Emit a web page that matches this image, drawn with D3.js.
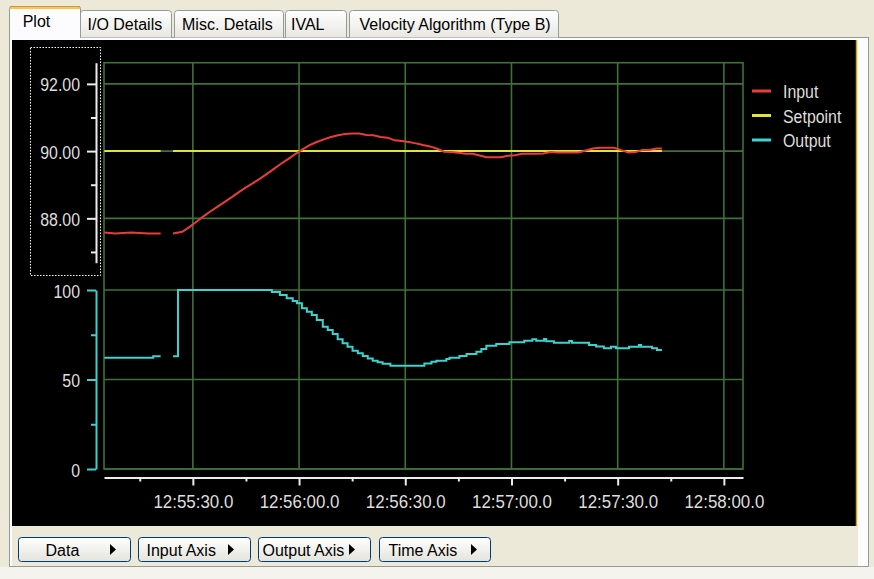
<!DOCTYPE html>
<html><head><meta charset="utf-8">
<script src="https://cdn.jsdelivr.net/npm/d3@7"></script>
<style>
html,body{margin:0;padding:0;background:#ECE9D8;overflow:hidden}
svg{display:block}
text{font-family:"Liberation Sans",Arial,sans-serif}
</style></head><body><svg id="c" width="874" height="579"></svg>
<script>
// ---------------- data ----------------
const tabLabels = ["Plot", "I/O Details", "Misc. Details", "IVAL", "Velocity Algorithm (Type B)"];
const buttonLabels = ["Data", "Input Axis", "Output Axis", "Time Axis"];
const seriesNames = ["Input", "Setpoint", "Output"];

const inputTickValues = [88, 90, 92];
const inputMinorTicks = [87, 89, 91];
const outputTickValues = [0, 50, 100];
const outputMinorTicks = [25, 75];
const timeTickLabels = ["12:55:30.0", "12:56:00.0", "12:56:30.0", "12:57:00.0", "12:57:30.0", "12:58:00.0"];
const timeStartLabel = "12:55:00.0";

// seconds after 12:55:00 ; null = gap in the record
const inputTime = [5, 8.1, 12.6, 17.4, 20.9, 21, 24.4, 27, 29, 31, 33, 35, 37, 39, 41, 43, 45, 47, 49, 51,
  53, 55, 57, 59, 61, 63, 65, 67, 69, 71, 73, 75, 77, 79, 81, 83, 85, 87, 89, 91, 93, 95, 97, 99, 101,
  103, 105, 107, 109, 111, 113, 115, 117, 119, 121, 123, 125, 127, 129, 131, 133, 135, 137, 139, 141,
  143, 145, 147, 149, 151, 153, 155, 157, 159, 161, 162.5];
const inputValues = [87.58, 87.55, 87.58, 87.55, 87.55, null, 87.55, 87.60, 87.74, 87.90, 88.06, 88.21,
  88.35, 88.49, 88.63, 88.78, 88.92, 89.05, 89.18, 89.33, 89.48, 89.63, 89.77, 89.92, 90.05, 90.18,
  90.27, 90.35, 90.42, 90.47, 90.51, 90.52, 90.52, 90.48, 90.47, 90.42, 90.40, 90.32, 90.30, 90.27,
  90.23, 90.18, 90.14, 90.07, 89.98, 89.97, 89.95, 89.92, 89.92, 89.87, 89.82, 89.82, 89.82, 89.86,
  89.88, 89.92, 89.92, 89.92, 89.93, 89.97, 89.96, 89.96, 89.96, 89.96, 90.02, 90.08, 90.10, 90.10,
  90.10, 90.03, 89.96, 89.97, 90.03, 90.03, 90.08, 90.08];

const setpointTime = [5, 20.9, 21, 24.4, 162.5];
const setpointValues = [90, 90, null, 90, 90];

const outputTime = [5, 18.8, 20.9, 21, 24.4, 25.8, 52.3, 54.6, 56.5, 58.2, 59.4, 60.8, 62.2, 63.6, 65,
  66.7, 68.1, 69.5, 70.9, 72.3, 73.7, 75.1, 76.6, 78, 79.4, 80.8, 82.2, 83.6, 85.8, 95.4, 97.4, 98.8,
  101.6, 102.5, 105.3, 107.3, 110.1, 111.5, 112.9, 115.7, 119.4, 123.6, 125.9, 127, 129.2, 129.8, 132,
  136.3, 137.1, 141.9, 143.9, 146.1, 148.1, 149.5, 153.2, 156, 156.6, 159.7, 161.1, 162.5];
const outputValues = [62.2, 63, 63, null, 63, 100, 98.9, 97.2, 95.4, 93.9, 92.6, 89.8, 87.9, 86, 83.2,
  79.5, 77.7, 75.4, 72.5, 70.2, 68.3, 66.1, 64.6, 63.1, 61.8, 60.5, 59.6, 58.8, 57.7, 59, 59.9, 60.5,
  61.5, 62.2, 63.1, 64.2, 65.5, 67, 68.9, 69.8, 70.8, 71.7, 72.5, 71.7, 72.6, 71.3, 70.6, 71.5, 70.6,
  69.3, 68.5, 67.4, 68.3, 67.4, 68.3, 69.3, 68.3, 67.4, 66.5, 66.5];

// ---------------- drawing ----------------
const svg = d3.select("#c");
const defs = svg.append("defs");
function grad(id, c0, c1) {
  const g = defs.append("linearGradient").attr("id", id).attr("x1", 0).attr("y1", 0).attr("x2", 0).attr("y2", 1);
  g.append("stop").attr("offset", 0).attr("stop-color", c0);
  g.append("stop").attr("offset", 1).attr("stop-color", c1);
}
grad("tabGrad", "#ffffff", "#e8e7e1");
grad("btnGrad", "#ffffff", "#e4e3dc");

svg.append("rect").attr("width", 874).attr("height", 579).attr("fill", "#ECE9D8");
svg.append("rect").attr("x", 0).attr("y", 567).attr("width", 874).attr("height", 12).attr("fill", "#F4F3EE");

// tab page
svg.append("rect").attr("x", 9.5).attr("y", 37.5).attr("width", 859).attr("height", 529)
  .attr("fill", "#FCFCFE").attr("stroke", "#919B9C");
svg.append("rect").attr("x", 12).attr("y", 526).attr("width", 846).attr("height", 40).attr("fill", "#ECE9D8");
svg.append("rect").attr("x", 12).attr("y", 40).attr("width", 845).attr("height", 486).attr("fill", "#000");
svg.append("line").attr("x1", 856.5).attr("x2", 856.5).attr("y1", 40).attr("y2", 526)
  .attr("stroke", "#d8a400").attr("stroke-width", 1.5);

// tabs
const tabX = [[10, 80], [80, 172], [174, 284], [285, 347], [349, 559]];
const tabTextX = [22.7, 87.5, 182, 291, 359.5];
tabLabels.forEach((lab, i) => {
  if (i === 0) return;
  const [a, b] = tabX[i];
  svg.append("path")
    .attr("d", `M${a + 0.5},37.5 V13.5 Q${a + 0.5},10.5 ${a + 3.5},10.5 H${b - 3.5} Q${b - 0.5},10.5 ${b - 0.5},13.5 V37.5`)
    .attr("fill", "url(#tabGrad)").attr("stroke", "#919B9C");
  svg.append("text").attr("x", tabTextX[i]).attr("y", 30).attr("font-size", 16).attr("fill", "#000").text(lab);
});
{
  const [a, b] = tabX[0];
  svg.append("path")
    .attr("d", `M${a - 0.5},38 V8.5 Q${a - 0.5},6.5 ${a + 2},6.5 H${b - 2} Q${b + 0.5},6.5 ${b + 0.5},8.5 V38`)
    .attr("fill", "#FCFCFE").attr("stroke", "#919B9C");
  svg.append("rect").attr("x", a).attr("y", 6).attr("width", b - a).attr("height", 1.5).attr("fill", "#E68B2C");
  svg.append("rect").attr("x", a).attr("y", 7.5).attr("width", b - a).attr("height", 1.5).attr("fill", "#FFC73C");
  svg.append("text").attr("x", tabTextX[0]).attr("y", 26.5).attr("font-size", 16).attr("fill", "#000").text(tabLabels[0]);
}

// buttons
const btnX = [[18.5, 130.5], [138.5, 250.5], [258.5, 370.5], [379.5, 490.5]];
const btnTextX = [45.5, 146.5, 262.5, 388.5];
const btnArrowX = [113, 231, 352, 474];
buttonLabels.forEach((lab, i) => {
  const [a, b] = btnX[i];
  svg.append("rect").attr("x", a).attr("y", 537.5).attr("width", b - a).attr("height", 24).attr("rx", 3)
    .attr("fill", "url(#btnGrad)").attr("stroke", "#003C74");
  svg.append("text").attr("x", btnTextX[i]).attr("y", 556).attr("font-size", 16).attr("fill", "#000").text(lab);
  const ax = btnArrowX[i];
  svg.append("path").attr("d", `M${ax - 3},544 L${ax + 3},549.5 L${ax - 3},555 Z`).attr("fill", "#000");
});

// scales
const parseT = d3.timeParse("%H:%M:%S.0");
const base = parseT(timeStartLabel);
const toDate = s => new Date(base.getTime() + s * 1000);
const plotL = 104, plotR = 743, plotT = 62.7, plotB = 469;
const x = d3.scaleTime().domain([toDate(4.9), toDate(185.4)]).range([plotL, plotR]);
const yIn = d3.scaleLinear().domain([86.68, 92.63]).range([262.7, plotT]);
const yOut = d3.scaleLinear().domain([0, 100]).range([plotB, 290]);

const majorDates = timeTickLabels.map(parseT);
const minorDates = x.ticks(d3.timeSecond.every(15)).filter(d => !majorDates.some(m => +m === +d));

// grid
const gridColor = "#3e7238";
const grid = svg.append("g").attr("stroke", gridColor).attr("stroke-width", 1.6).attr("fill", "none");
grid.append("rect").attr("x", plotL).attr("y", plotT).attr("width", plotR - plotL).attr("height", plotB - plotT);
grid.selectAll("line.h1").data(inputTickValues).join("line")
  .attr("x1", plotL).attr("x2", plotR).attr("y1", d => yIn(d)).attr("y2", d => yIn(d));
grid.selectAll("line.h2").data(outputTickValues).join("line").attr("class", "h2")
  .attr("x1", plotL).attr("x2", plotR).attr("y1", d => yOut(d)).attr("y2", d => yOut(d));
grid.selectAll("line.v").data(majorDates).join("line").attr("class", "v")
  .attr("x1", d => x(d)).attr("x2", d => x(d)).attr("y1", plotT).attr("y2", plotB);

// series
const mk = (ts, vs) => d3.zip(ts, vs).map(([t, v]) => ({ t: toDate(t), v }));
const lineIn = d3.line().defined(d => d.v != null).x(d => x(d.t)).y(d => yIn(d.v));
const lineSp = d3.line().defined(d => d.v != null).x(d => x(d.t)).y(d => yIn(d.v)).curve(d3.curveStepAfter);
const lineOut = d3.line().defined(d => d.v != null).x(d => x(d.t)).y(d => yOut(d.v)).curve(d3.curveStepAfter);
const colors = { Input: "#ec3b3b", Setpoint: "#e2e23a", Output: "#38d4cf" };

svg.append("path").attr("d", lineSp(mk(setpointTime, setpointValues))).attr("fill", "none")
  .attr("stroke", colors.Setpoint).attr("stroke-width", 2);
svg.append("path").attr("d", lineIn(mk(inputTime, inputValues))).attr("fill", "none")
  .attr("stroke", colors.Input).attr("stroke-width", 2);
svg.append("path").attr("d", lineOut(mk(outputTime, outputValues))).attr("fill", "none")
  .attr("stroke", colors.Output).attr("stroke-width", 2);

// axes
const labelColor = "#dedede";
function styleAxis(g, color) {
  g.select(".domain").attr("stroke", color).attr("stroke-width", 2);
  g.selectAll(".tick line").attr("stroke", color).attr("stroke-width", 2);
  g.selectAll("text").attr("fill", labelColor).attr("font-family", '"Liberation Sans",Arial,sans-serif');
}
const white = "#ececec";
const gIn = svg.append("g").attr("transform", "translate(96,0)")
  .call(d3.axisLeft(yIn).tickValues(inputTickValues).tickSize(9).tickSizeOuter(0).tickFormat(d3.format(".2f")));
styleAxis(gIn, white);
gIn.selectAll("text").attr("font-size", 18.5).attr("x", null).attr("dy", "0.38em")
  .attr("transform", "translate(-16,0) scale(0.86,1)");
const gInMinor = svg.append("g").attr("transform", "translate(96,0)")
  .call(d3.axisLeft(yIn).tickValues(inputMinorTicks).tickSize(5).tickFormat(""));
styleAxis(gInMinor, white);
gInMinor.select(".domain").remove();

const cyan = colors.Output;
const gOut = svg.append("g").attr("transform", "translate(96,0)")
  .call(d3.axisLeft(yOut).tickValues(outputTickValues).tickSize(9).tickSizeOuter(0).tickFormat(d3.format("d")));
styleAxis(gOut, cyan);
gOut.selectAll("text").attr("font-size", 18.5).attr("x", null).attr("dy", "0.38em")
  .attr("transform", "translate(-16,0) scale(0.86,1)");
const gOutMinor = svg.append("g").attr("transform", "translate(96,0)")
  .call(d3.axisLeft(yOut).tickValues(outputMinorTicks).tickSize(5).tickFormat(""));
styleAxis(gOutMinor, cyan);
gOutMinor.select(".domain").remove();

const gT = svg.append("g").attr("transform", "translate(0,477.5)")
  .call(d3.axisBottom(x).tickValues(majorDates).tickSize(8).tickSizeOuter(0).tickFormat((d, i) => timeTickLabels[i]));
styleAxis(gT, white);
gT.selectAll("text").attr("font-size", 19).attr("y", null).attr("dy", null)
  .attr("transform", "translate(0,30) scale(0.89,1)");
const gTMinor = svg.append("g").attr("transform", "translate(0,477.5)")
  .call(d3.axisBottom(x).tickValues(minorDates).tickSize(4).tickFormat(""));
styleAxis(gTMinor, white);
gTMinor.select(".domain").remove();

// dotted selection box around input axis
svg.append("rect").attr("x", 30.5).attr("y", 47.5).attr("width", 70).attr("height", 228)
  .attr("fill", "none").attr("stroke", "#ffffff").attr("stroke-dasharray", "1.5,1.5");

// legend
const leg = svg.append("g");
seriesNames.forEach((n, i) => {
  const yy = 91 + i * 24.5;
  leg.append("line").attr("x1", 752).attr("x2", 771).attr("y1", yy).attr("y2", yy)
    .attr("stroke", colors[n]).attr("stroke-width", 3);
  leg.append("text").attr("transform", `translate(783,${yy + 7.3}) scale(0.86,1)`)
    .attr("font-size", 18.5).attr("fill", labelColor).text(n);
});
</script></body></html>
